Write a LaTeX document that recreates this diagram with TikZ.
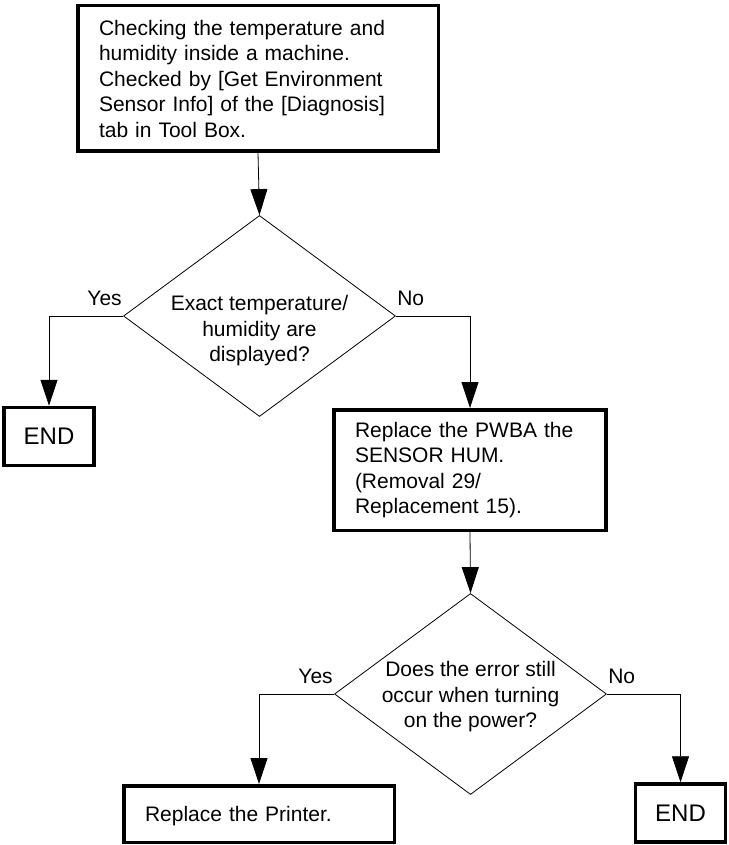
\documentclass[tikz,border=0pt]{standalone}
\usepackage{fontspec}
\setmainfont{Liberation Sans}
\usetikzlibrary{arrows.meta, positioning, shapes.geometric}

\begin{document}
\begin{tikzpicture}[
  x=1pt, y=-1pt,
  font=\fontsize{21}{25.5}\selectfont,
  block/.style = {draw, line width=3.5pt, minimum width=270.5pt, align=left, inner xsep=21pt, inner ysep=0pt},
  decision/.style = {draw, diamond, line width=0.8pt, minimum width=272pt, minimum height=201pt, inner sep=0pt},
  dtext/.style = {align=center, inner sep=0pt},
  endbox/.style = {draw, line width=3.5pt, minimum width=90pt, minimum height=58pt, text depth=0pt, font=\fontsize{24}{28}\selectfont},
  line/.style = {line width=0.8pt, -{Triangle[length=26pt, width=17pt]}},
  answerleft/.style = {anchor=base east, inner sep=0pt, xshift=-1pt, yshift=11pt},
  answerright/.style = {anchor=base west, inner sep=0pt, xshift=1pt, yshift=11pt}
]
\useasboundingbox (0,0) rectangle (728,845);

% Nodes
\node[block, minimum width=360.5pt, minimum height=145.5pt, text width=318pt] (check) at (258,78.5)
  {Checking the temperature and\\humidity inside a machine.\\Checked by [Get Environment\\Sensor Info] of the [Diagnosis]\\tab in Tool Box.};
\node[decision] (dec1) at (259.5,316) {};
\node[dtext] (dec1text) at ([yshift=-15pt]dec1.center) {Exact temperature/\\humidity are\\displayed?};
\node[endbox] (end1) at (49,436.5) {END};
\node[block, minimum height=120.5pt, text width=230pt] (repl) at (470,470)
  {Replace the PWBA the\\SENSOR HUM.\\(Removal 29/\\Replacement 15).};
\node[decision] (dec2) at (470.5,694) {};
\node[dtext] (dec2text) at ([yshift=-3pt]dec2.center) {Does the error still\\occur when turning\\on the power?};
\node[block, minimum height=56.5pt, text width=228pt, text depth=0pt] (printer) at (259,814) {Replace the Printer.};
\node[endbox] (end2) at (680.5,813) {END};

% Connections
\draw[line] (check.south) -- (dec1.north);
\draw[line] (dec1.west) node[answerleft]{Yes} -| (end1.north);
\draw[line] (dec1.east) node[answerright]{No} -| (repl.north);
\draw[line] (repl.south) -- (dec2.north);
\draw[line] (dec2.west) node[answerleft]{Yes} -| (printer.north);
\draw[line] (dec2.east) node[answerright]{No} -| (end2.north);

\end{tikzpicture}
\end{document}
